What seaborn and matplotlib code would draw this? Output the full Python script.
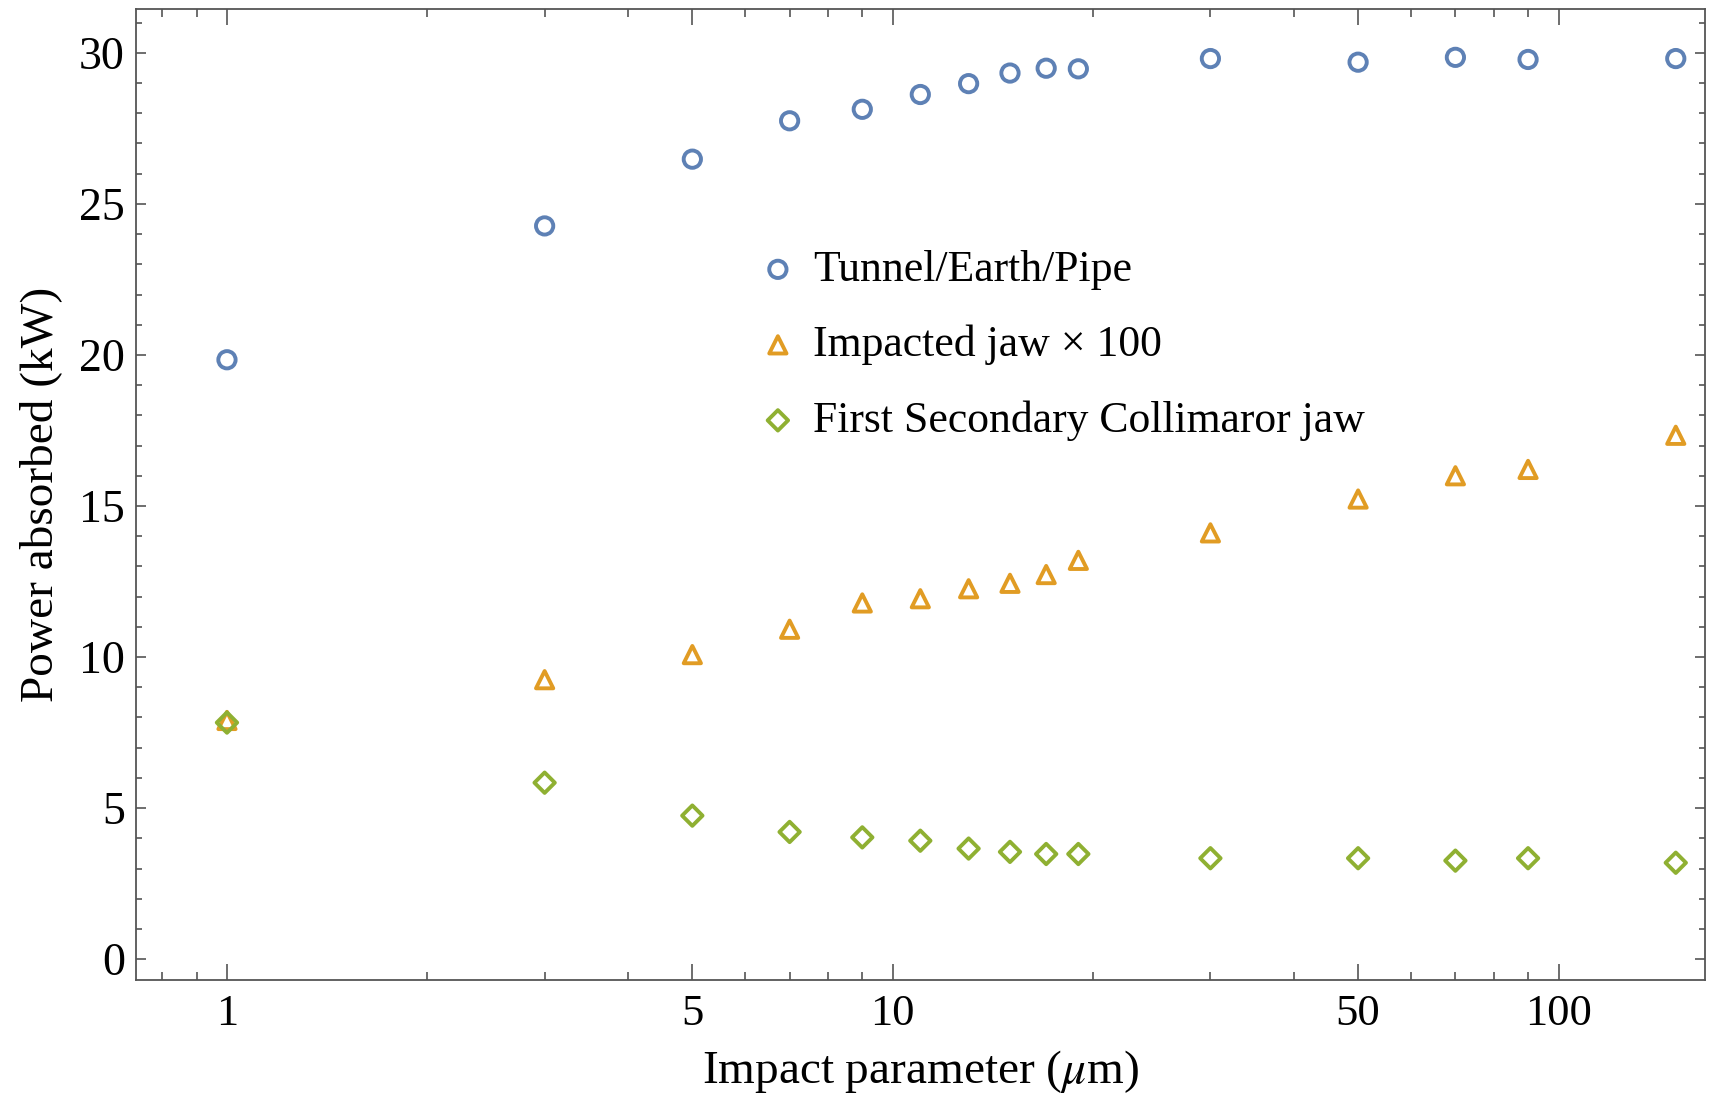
import matplotlib
matplotlib.use("Agg")
import matplotlib.pyplot as plt
import matplotlib.ticker as mticker
import numpy as np
import pandas as pd
import seaborn as sns

impact = [1, 3, 5, 7, 9, 11, 13, 15, 17, 19, 30, 50, 70, 90, 150]
tunnel = [19.84, 24.27, 26.48, 27.75, 28.13, 28.62, 28.98, 29.33, 29.49, 29.47,
          29.81, 29.69, 29.85, 29.78, 29.81]
jaw100 = [7.9, 9.25, 10.08, 10.92, 11.79, 11.93, 12.26, 12.44, 12.73, 13.2,
          14.11, 15.23, 16.0, 16.21, 17.34]
secondary = [7.83, 5.84, 4.75, 4.21, 4.03, 3.92, 3.66, 3.55, 3.48, 3.48,
             3.34, 3.34, 3.26, 3.34, 3.19]

labels = ["Tunnel/Earth/Pipe", "Impacted jaw \u00d7 100", "First Secondary Collimaror jaw"]
colors = ["#5E81B5", "#E19C24", "#8FB032"]
markers = ["o", "^", "D"]
sizes = [155, 155, 108]

sns.set_style("ticks")
plt.rcParams["font.family"] = ["Liberation Serif", "DejaVu Serif"]
plt.rcParams["mathtext.fontset"] = "stix"
plt.rcParams["text.color"] = "black"
plt.rcParams["axes.labelcolor"] = "black"
plt.rcParams["xtick.labelcolor"] = "black"
plt.rcParams["ytick.labelcolor"] = "black"

fig = plt.figure(figsize=(17.19, 10.99), dpi=100)
ax = fig.add_axes([0.0791, 0.1083, 0.9128, 0.8835])

series = [tunnel, jaw100, secondary]
for vals, lab, col, mk, sz in zip(series, labels, colors, markers, sizes):
    df = pd.DataFrame({"x": impact, "y": vals})
    sns.scatterplot(data=df, x="x", y="y", ax=ax, marker=mk, s=sz,
                    color=col, facecolor="none", edgecolor=col,
                    linewidth=2.8, label=lab, zorder=3)

ax.set_xscale("log")
ax.set_xlim(0.73, 166)
ax.set_ylim(-0.69, 31.45)

ax.xaxis.set_major_locator(mticker.FixedLocator([1, 5, 10, 50, 100]))
ax.xaxis.set_major_formatter(mticker.FixedFormatter(["1", "5", "10", "50", "100"]))
minor_x = [0.8, 0.9, 2, 3, 4, 6, 7, 8, 9, 20, 30, 40, 60, 70, 80, 90, 200]
ax.xaxis.set_minor_locator(mticker.FixedLocator(minor_x))
ax.xaxis.set_minor_formatter(mticker.NullFormatter())
ax.yaxis.set_major_locator(mticker.MultipleLocator(5))
ax.yaxis.set_minor_locator(mticker.MultipleLocator(1))

ax.tick_params(axis="both", which="both", direction="in", top=True, right=True,
               color="#555555", width=1.2, labelcolor="black")
ax.tick_params(axis="x", which="major", length=11.5, labelsize=32, pad=10)
ax.tick_params(axis="x", which="minor", length=5.8)
ax.tick_params(axis="y", which="major", length=7.2, labelsize=33, pad=8)
ax.tick_params(axis="y", which="minor", length=4.3)

for sp in ax.spines.values():
    sp.set_color("#555555")
    sp.set_linewidth(1.3)

ax.set_xlabel(r"Impact parameter ($\mu$m)", fontsize=34, labelpad=10, color="black")
ax.set_ylabel("Power absorbed (kW)", fontsize=34, labelpad=12, color="black")

leg = ax.legend(loc="upper left", bbox_to_anchor=(0.384, 0.770), frameon=False,
                fontsize=31.5, handletextpad=0.3, labelspacing=0.80,
                handlelength=1.0, borderaxespad=0)
for t in leg.get_texts():
    t.set_color("black")

fig.savefig("out.png", dpi=100)
